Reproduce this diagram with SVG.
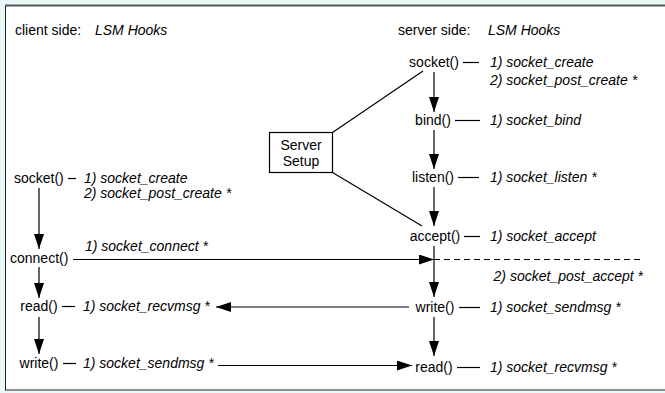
<svg xmlns="http://www.w3.org/2000/svg" width="665" height="393" viewBox="0 0 665 393">
<defs>
<marker id="ah" markerUnits="userSpaceOnUse" markerWidth="15" markerHeight="10" viewBox="0 0 15 10" refX="15" refY="5" orient="auto">
<path d="M0,0 L15,5 L0,10 Z" fill="#000"/>
</marker>
<style>
text{font-family:"Liberation Sans",Arial,sans-serif;font-size:14px;fill:#000}
.i{font-style:italic}
.m{text-anchor:middle}
.e{text-anchor:end}
.c line,.c path{stroke:#000;stroke-width:1.2;fill:none}
.a{marker-end:url(#ah)}
.d{stroke-dasharray:6 4}
</style>
</defs>
<rect x="0" y="0" width="665" height="393" fill="#e9f7f7"/>
<rect x="5.5" y="5.5" width="680" height="384.5" fill="#fff" stroke="#222" stroke-width="1"/>
<line x1="5" y1="5.5" x2="665" y2="5.5" stroke="#555" stroke-width="2"/>

<g id="headers">
<text x="15" y="35">client side:</text>
<text x="95" y="35" class="i">LSM Hooks</text>
<text x="398" y="35">server side:</text>
<text x="488" y="35" class="i">LSM Hooks</text>
</g>

<g id="server-setup">
<rect x="269.5" y="132.5" width="63" height="40" fill="#fff" stroke="#000" stroke-width="1.2"/>
<text x="301" y="150" class="m">Server</text>
<text x="301" y="166" class="m">Setup</text>
</g>

<g id="s-socket">
<text x="434" y="67" class="m">socket()</text>
<text x="490" y="67" class="i">1) socket_create</text>
<text x="490" y="85" class="i">2) socket_post_create *</text>
</g>
<g id="s-bind">
<text x="433" y="125" class="m">bind()</text>
<text x="490" y="125" class="i">1) socket_bind</text>
</g>
<g id="s-listen">
<text x="433" y="182" class="m">listen()</text>
<text x="490" y="182" class="i">1) socket_listen *</text>
</g>
<g id="s-accept">
<text x="435" y="241" class="m">accept()</text>
<text x="490" y="241" class="i">1) socket_accept</text>
<text x="643" y="281" class="i e">2) socket_post_accept *</text>
</g>
<g id="s-write">
<text x="435" y="312" class="m">write()</text>
<text x="490" y="312" class="i">1) socket_sendmsg *</text>
</g>
<g id="s-read">
<text x="434" y="372" class="m">read()</text>
<text x="490" y="372" class="i">1) socket_recvmsg *</text>
</g>

<g id="c-socket">
<text x="14" y="183">socket()</text>
<text x="84" y="183" class="i">1) socket_create</text>
<text x="84" y="198" class="i">2) socket_post_create *</text>
</g>
<g id="c-connect">
<text x="10" y="263">connect()</text>
<text x="85" y="251" class="i">1) socket_connect *</text>
</g>
<g id="c-read">
<text x="39" y="311" class="m">read()</text>
<text x="83" y="311" class="i">1) socket_recvmsg *</text>
</g>
<g id="c-write">
<text x="39" y="368" class="m">write()</text>
<text x="83" y="368" class="i">1) socket_sendmsg *</text>
</g>

<g id="connectors" class="c">
<line x1="332.5" y1="132.5" x2="423" y2="71"/>
<line x1="332.5" y1="172.5" x2="422" y2="226"/>
<line class="a" x1="434" y1="72" x2="434" y2="112"/>
<line class="a" x1="434" y1="130" x2="434" y2="169"/>
<line class="a" x1="434" y1="187" x2="434" y2="226"/>
<line class="a" x1="434" y1="246" x2="434" y2="297"/>
<line class="a" x1="434" y1="317" x2="434" y2="356"/>
<line class="a" x1="39" y1="188" x2="39" y2="249"/>
<line class="a" x1="39" y1="267" x2="39" y2="298"/>
<line class="a" x1="39" y1="317" x2="39" y2="354"/>
<line x1="463" y1="62.5" x2="479" y2="62.5"/>
<line x1="455" y1="120.5" x2="480" y2="120.5"/>
<line x1="458" y1="177.5" x2="479" y2="177.5"/>
<line x1="464" y1="236.5" x2="480" y2="236.5"/>
<line x1="459" y1="307.5" x2="480" y2="307.5"/>
<line x1="457" y1="367.5" x2="480" y2="367.5"/>
<line x1="68" y1="178.5" x2="76" y2="178.5"/>
<line x1="62" y1="306.5" x2="75" y2="306.5"/>
<line x1="63" y1="363.5" x2="76" y2="363.5"/>
<line class="a" x1="73" y1="259.5" x2="434" y2="259.5"/>
<line class="d" x1="434" y1="259.5" x2="643" y2="259.5"/>
<line class="a" x1="409" y1="307" x2="216" y2="307"/>
<line class="a" x1="218" y1="365.5" x2="412" y2="365.5"/>
</g>
</svg>
